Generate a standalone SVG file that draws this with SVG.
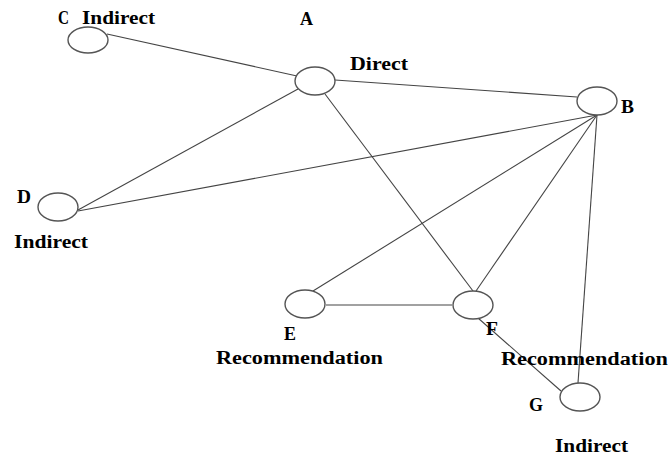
<svg xmlns="http://www.w3.org/2000/svg" width="670" height="457" viewBox="0 0 670 457">
<style>
.n{fill:#fff;stroke:#555;stroke-width:1.4}
.e{stroke:#444;stroke-width:1.1;fill:none}
.t{font-family:"Liberation Serif","Times New Roman",serif;font-weight:bold;font-size:18px;fill:#000}
</style>
<rect width="670" height="457" fill="#fff"/>
<g id="edges">
<line class="e" x1="107" y1="34" x2="297" y2="76"/>
<line class="e" x1="335" y1="80" x2="577" y2="97"/>
<line class="e" x1="298" y1="89" x2="78" y2="210"/>
<line class="e" x1="325" y1="94" x2="473" y2="291"/>
<line class="e" x1="597" y1="115" x2="78" y2="211"/>
<line class="e" x1="597" y1="115" x2="313" y2="291"/>
<line class="e" x1="597" y1="115" x2="476" y2="291"/>
<line class="e" x1="597" y1="115" x2="578" y2="383"/>
<line class="e" x1="326" y1="305" x2="452" y2="305"/>
<line class="e" x1="478" y1="318" x2="561" y2="391"/>
</g>
<g id="C"><ellipse class="n" cx="88" cy="40" rx="20" ry="13"/><text class="t" x="58" y="24" textLength="11" lengthAdjust="spacingAndGlyphs">C</text><text class="t" x="82" y="24" textLength="73" lengthAdjust="spacingAndGlyphs">Indirect</text></g>
<g id="A"><ellipse class="n" cx="315" cy="81" rx="20" ry="14"/><text class="t" x="300" y="25" textLength="13" lengthAdjust="spacingAndGlyphs">A</text><text class="t" x="350" y="70" textLength="58" lengthAdjust="spacingAndGlyphs">Direct</text></g>
<g id="B"><ellipse class="n" cx="597" cy="101" rx="20" ry="14"/><text class="t" x="621" y="113" textLength="13" lengthAdjust="spacingAndGlyphs">B</text></g>
<g id="D"><ellipse class="n" cx="58" cy="207" rx="20" ry="14"/><text class="t" x="17" y="203" textLength="14" lengthAdjust="spacingAndGlyphs">D</text><text class="t" x="14" y="248" textLength="74" lengthAdjust="spacingAndGlyphs">Indirect</text></g>
<g id="E"><ellipse class="n" cx="305" cy="304" rx="20" ry="14"/><text class="t" x="284" y="340" textLength="12" lengthAdjust="spacingAndGlyphs">E</text><text class="t" x="216" y="364" textLength="167" lengthAdjust="spacingAndGlyphs">Recommendation</text></g>
<g id="F"><ellipse class="n" cx="473" cy="305" rx="20" ry="14"/><text class="t" x="486" y="335" textLength="12" lengthAdjust="spacingAndGlyphs">F</text><text class="t" x="501" y="365" textLength="167" lengthAdjust="spacingAndGlyphs">Recommendation</text></g>
<g id="G"><ellipse class="n" cx="580" cy="397" rx="20" ry="14"/><text class="t" x="529" y="411" textLength="14" lengthAdjust="spacingAndGlyphs">G</text><text class="t" x="555" y="452" textLength="73" lengthAdjust="spacingAndGlyphs">Indirect</text></g>
</svg>
